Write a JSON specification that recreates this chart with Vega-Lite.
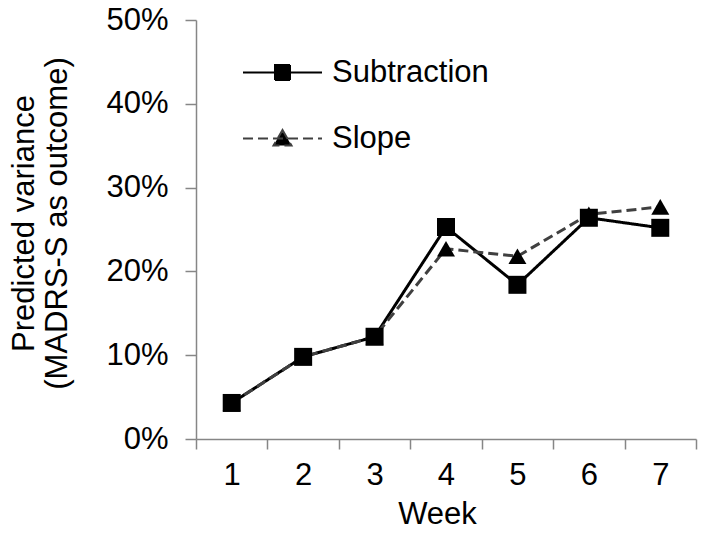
{
  "$schema": "https://vega.github.io/schema/vega-lite/v6.json",
  "width": 500,
  "height": 419,
  "autosize": {"type": "none"},
  "padding": {"left": 196, "top": 20, "right": 8, "bottom": 94},
  "background": "white",
  "config": {
    "view": {"stroke": null},
    "font": "Liberation Sans",
    "axis": {"labelFont": "Liberation Sans", "titleFont": "Liberation Sans", "labelColor": "black", "titleColor": "black", "titleFontWeight": "normal", "domainColor": "#868686", "tickColor": "#868686", "domainWidth": 1.5, "tickWidth": 1.5, "grid": false}
  },
  "data": {
    "values": [
      {"week": 1, "series": "Subtraction", "value": 0.043},
      {"week": 2, "series": "Subtraction", "value": 0.098},
      {"week": 3, "series": "Subtraction", "value": 0.122},
      {"week": 4, "series": "Subtraction", "value": 0.253},
      {"week": 5, "series": "Subtraction", "value": 0.184},
      {"week": 6, "series": "Subtraction", "value": 0.264},
      {"week": 7, "series": "Subtraction", "value": 0.252},
      {"week": 1, "series": "Slope", "value": 0.043},
      {"week": 2, "series": "Slope", "value": 0.098},
      {"week": 3, "series": "Slope", "value": 0.122},
      {"week": 4, "series": "Slope", "value": 0.227},
      {"week": 5, "series": "Slope", "value": 0.218},
      {"week": 6, "series": "Slope", "value": 0.268},
      {"week": 7, "series": "Slope", "value": 0.277}
    ]
  },
  "encoding": {
    "x": {
      "field": "week", "type": "quantitative",
      "scale": {"domain": [0.5, 7.5], "nice": false, "zero": false},
      "axis": {
        "title": "Week", "titleFontSize": 31, "titlePadding": 9, "titleX": 241,
        "values": [0.5, 1.5, 2.5, 3.5, 4.5, 5.5, 6.5, 7.5],
        "labelExpr": "datum.value < 7 ? toString(datum.value + 0.5) : ''",
        "labelOffset": 35.7, "labelFontSize": 31, "tickSize": 10, "labelPadding": 11,
        "labelFlush": false, "labelOverlap": false
      }
    },
    "y": {
      "field": "value", "type": "quantitative",
      "scale": {"domain": [0, 0.5], "nice": false},
      "axis": {
        "title": ["Predicted variance", "(MADRS-S as outcome)"],
        "titleFontSize": 31, "titleLineHeight": 33, "titleX": -163, "titleY": 203, "titleBaseline": "alphabetic",
        "values": [0, 0.1, 0.2, 0.3, 0.4, 0.5], "format": ".0%",
        "labelFontSize": 31, "tickSize": 11, "labelPadding": 17, "labelFlush": false
      }
    }
  },
  "layer": [
    {
      "mark": {"type": "line", "strokeWidth": 3},
      "encoding": {
        "color": {
          "field": "series", "type": "nominal",
          "scale": {"domain": ["Subtraction", "Slope"], "range": ["black", "#404040"]},
          "legend": {
            "title": null, "orient": "none", "legendX": 71, "legendY": 37,
            "labelFontSize": 31, "labelColor": "black", "labelFont": "Liberation Sans",
            "symbolSize": 400, "labelOffset": 34, "rowPadding": 34, "symbolStrokeWidth": 2,
            "encode": {
              "symbols": {
                "update": {
                  "shape": {"signal": "datum.value === 'Subtraction' ? 'M-3.95,0H3.95M-0.75,-0.75H0.75V0.75H-0.75Z' : 'M-3.95,0H3.95M0,-0.85L0.9,0.7L-0.9,0.7Z'"},
                  "fill": {"value": "black"},
                  "fillOpacity": {"value": 1},
                  "stroke": {"value": "black"},
                  "strokeWidth": {"value": 2},
                  "strokeDash": {"signal": "datum.value === 'Subtraction' ? [1,0] : [4,3]"},
                  "opacity": {"value": 1}
                }
              }
            }
          }
        },
        "strokeDash": {
          "field": "series", "type": "nominal",
          "scale": {"domain": ["Subtraction", "Slope"], "range": [[1, 0], [10, 5]]},
          "legend": null
        }
      }
    },
    {
      "transform": [{"filter": "datum.series === 'Subtraction'"}],
      "mark": {"type": "point", "filled": true, "opacity": 1, "color": "black", "size": 324, "shape": "square"}
    },
    {
      "transform": [{"filter": "datum.series === 'Slope'"}],
      "mark": {"type": "point", "filled": true, "opacity": 1, "color": "black", "size": 324, "shape": "triangle-up"}
    }
  ]
}
